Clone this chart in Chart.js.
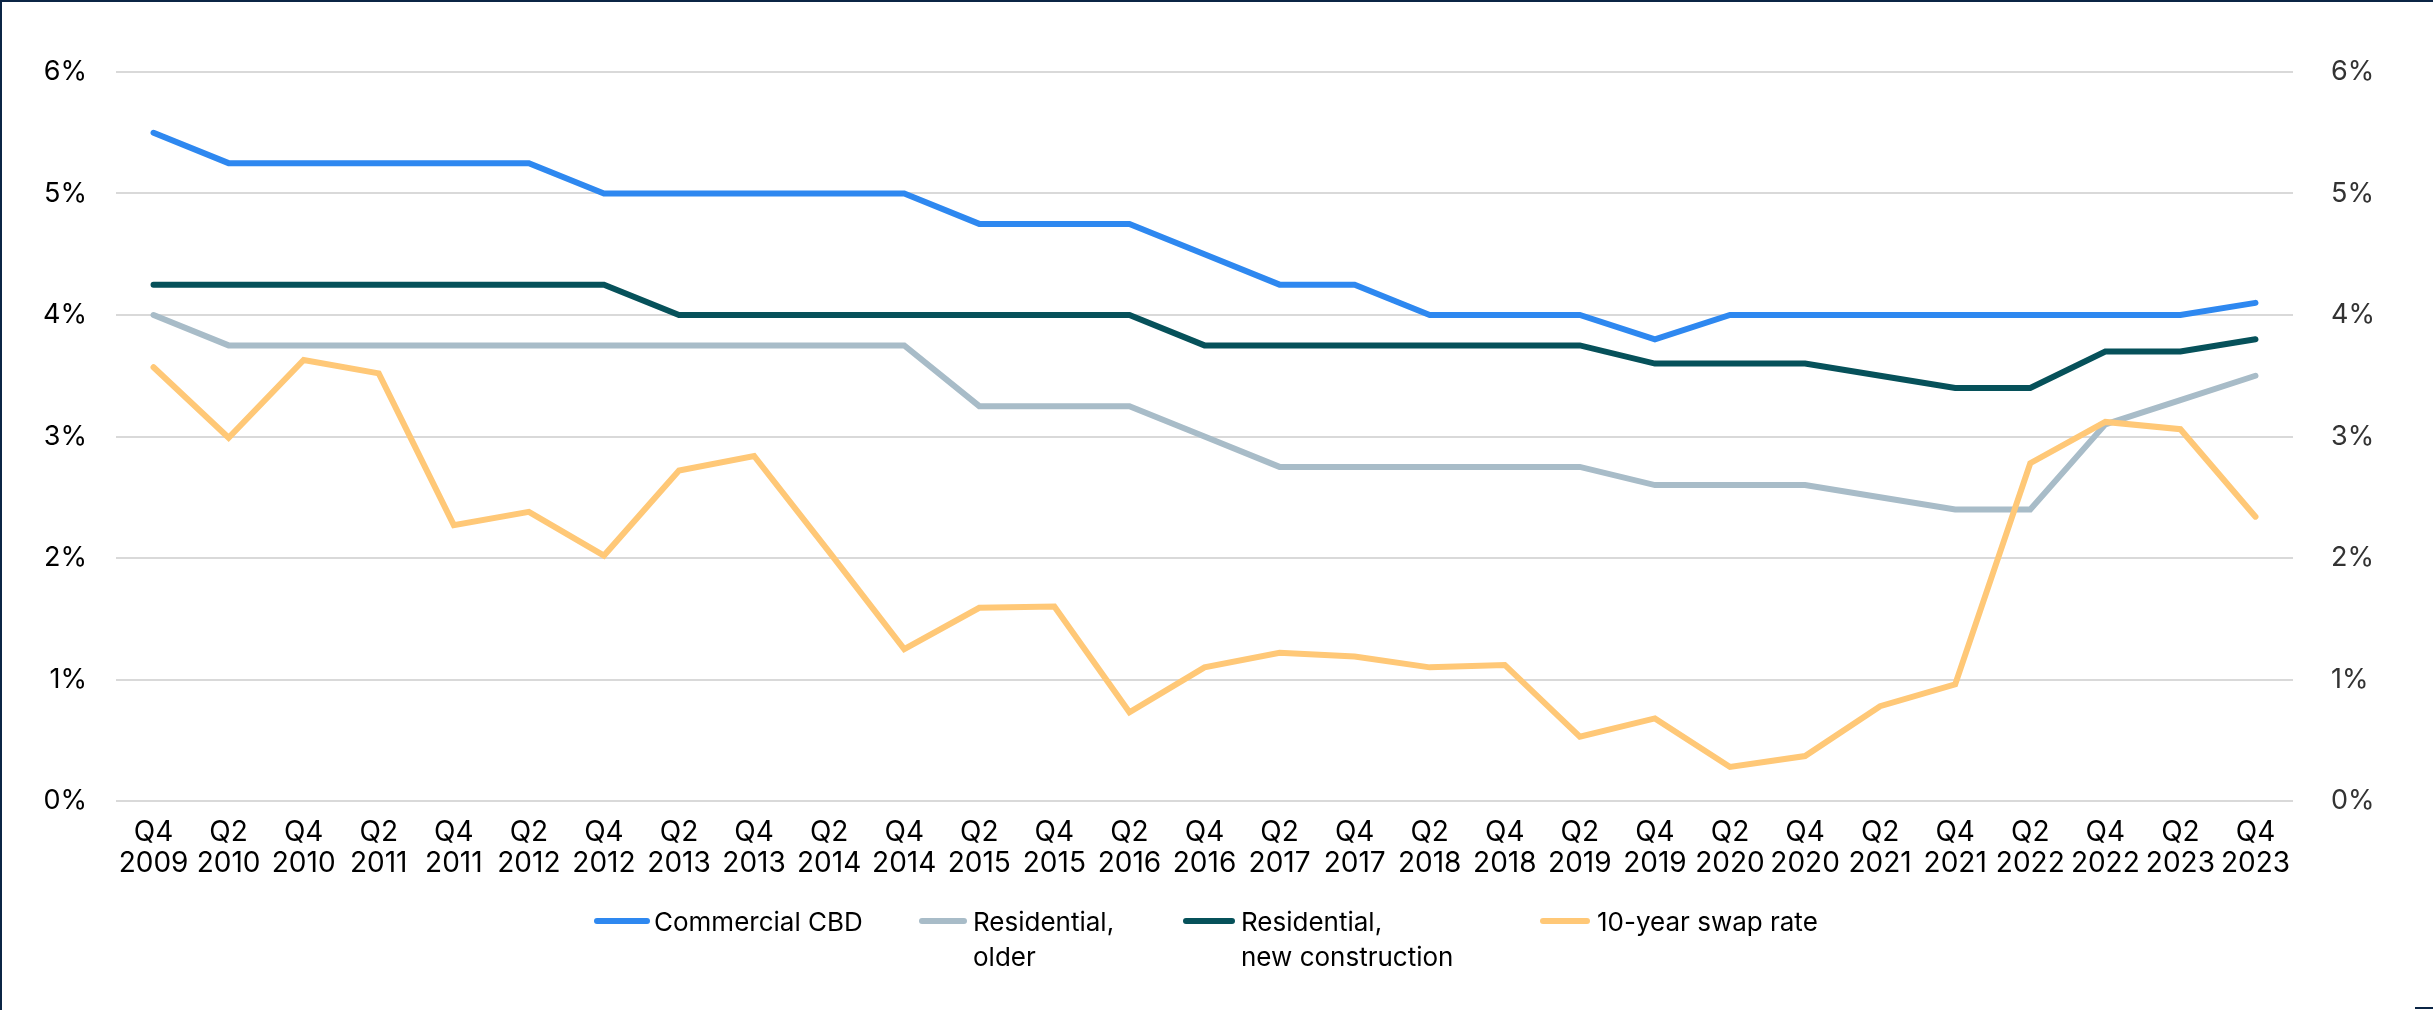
<!DOCTYPE html>
<html>
<head>
<meta charset="utf-8">
<script src="https://cdn.jsdelivr.net/npm/chart.js@4.4.1/dist/chart.umd.min.js"></script>
<style>
    body { margin: 0; background: #fff; }
    .wrap { position: relative; width: 2433px; height: 1010px; box-sizing: border-box; border-top: 2px solid #0b2545; border-left: 2px solid #0b2545; }
    .legend-item { position: absolute; font-family: Inter, "Liberation Sans", sans-serif; font-size: 26px; line-height: 35px; color: #000; }
    .legend-item .swatch { position: absolute; height: 6px; border-radius: 3px; top: 14px; }
    .corner { position: absolute; right: 0; bottom: 1px; width: 18px; height: 2px; background: #0b2545; }
</style>
</head>
<body>
<div class="wrap">
    <canvas id="chart"></canvas>
    <div id="legend"></div>
    <div class="corner"></div>
</div>
<script>
// categories (semi-annual)
const labels = [
    ['Q4', '2009'], ['Q2', '2010'], ['Q4', '2010'], ['Q2', '2011'], ['Q4', '2011'],
    ['Q2', '2012'], ['Q4', '2012'], ['Q2', '2013'], ['Q4', '2013'], ['Q2', '2014'],
    ['Q4', '2014'], ['Q2', '2015'], ['Q4', '2015'], ['Q2', '2016'], ['Q4', '2016'],
    ['Q2', '2017'], ['Q4', '2017'], ['Q2', '2018'], ['Q4', '2018'], ['Q2', '2019'],
    ['Q4', '2019'], ['Q2', '2020'], ['Q4', '2020'], ['Q2', '2021'], ['Q4', '2021'],
    ['Q2', '2022'], ['Q4', '2022'], ['Q2', '2023'], ['Q4', '2023']
];

// values in %
const commercialCBD = [5.5, 5.25, 5.25, 5.25, 5.25, 5.25, 5.0, 5.0, 5.0, 5.0,
    5.0, 4.75, 4.75, 4.75, 4.5, 4.25, 4.25, 4.0, 4.0, 4.0,
    3.8, 4.0, 4.0, 4.0, 4.0, 4.0, 4.0, 4.0, 4.1];
const residentialOlder = [4.0, 3.75, 3.75, 3.75, 3.75, 3.75, 3.75, 3.75, 3.75, 3.75,
    3.75, 3.25, 3.25, 3.25, 3.0, 2.75, 2.75, 2.75, 2.75, 2.75,
    2.6, 2.6, 2.6, 2.5, 2.4, 2.4, 3.1, 3.3, 3.5];
const residentialNew = [4.25, 4.25, 4.25, 4.25, 4.25, 4.25, 4.25, 4.0, 4.0, 4.0,
    4.0, 4.0, 4.0, 4.0, 3.75, 3.75, 3.75, 3.75, 3.75, 3.75,
    3.6, 3.6, 3.6, 3.5, 3.4, 3.4, 3.7, 3.7, 3.8];
const swapRate = [3.57, 2.99, 3.63, 3.52, 2.27, 2.38, 2.02, 2.72, 2.84, 2.05,
    1.25, 1.59, 1.6, 0.73, 1.1, 1.22, 1.19, 1.1, 1.12, 0.53,
    0.68, 0.28, 0.37, 0.78, 0.96, 2.78, 3.12, 3.06, 2.34];

const yTicks = [0, 1, 2, 3, 4, 5, 6];

const seriesNames = ['Commercial CBD', 'Residential,\nolder', 'Residential,\nnew construction', '10-year swap rate'];
const seriesColors = ['#2e88f0', '#a8bcc8', '#06515a', '#ffc877'];

const font = { family: 'Inter, "Liberation Sans", sans-serif', size: 27 };

const ctx = document.getElementById('chart').getContext('2d');
const chart = new Chart(ctx, {
    type: 'line',
    data: {
        labels: labels,
        datasets: [
            { label: seriesNames[0], data: commercialCBD, borderColor: seriesColors[0], order: 1 },
            { label: seriesNames[1], data: residentialOlder, borderColor: seriesColors[1], order: 2 },
            { label: seriesNames[2], data: residentialNew, borderColor: seriesColors[2], order: 1 },
            { label: seriesNames[3], data: swapRate, borderColor: seriesColors[3], order: 0 }
        ]
    },
    options: {
        responsive: true,
        maintainAspectRatio: false,
        animation: false,
        datasets: {
            line: { borderWidth: 6, tension: 0, pointRadius: 0, fill: false, borderCapStyle: 'round' }
        },
        layout: { padding: { top: 70, bottom: 119, left: 0, right: 0 } },
        plugins: { legend: { display: false }, tooltip: { enabled: false } },
        scales: {
            x: {
                offset: true,
                grid: { display: false, drawTicks: false },
                border: { display: false },
                ticks: { color: '#000', font: { ...font, size: 28, lineHeight: 1.12 }, padding: 16, maxRotation: 0, autoSkip: false },
                afterFit: function (scale) { scale.height = 90; }
            },
            y: {
                position: 'left',
                min: 0, max: 6,
                afterBuildTicks: function (scale) { scale.ticks = yTicks.map(v => ({ value: v })); },
                grid: { color: '#d9d9d9', lineWidth: 2, drawTicks: false },
                border: { display: false },
                ticks: { color: '#000', font: font, padding: 29, callback: v => v + '%' },
                afterFit: function (scale) { scale.width = 114; }
            },
            y1: {
                position: 'right',
                min: 0, max: 6,
                afterBuildTicks: function (scale) { scale.ticks = yTicks.map(v => ({ value: v })); },
                grid: { display: false, drawTicks: false },
                border: { display: false },
                ticks: { color: '#333', font: font, padding: 38, callback: v => v + '%' },
                afterFit: function (scale) { scale.width = 140; }
            }
        }
    }
});

// legend: Excel-style, placed under the axis
const legendPos = [
    { swatch: [594, 650], text: 654 },
    { swatch: [919, 967], text: 973 },
    { swatch: [1183, 1235], text: 1241 },
    { swatch: [1540, 1590], text: 1597 }
];
const legend = document.getElementById('legend');
seriesNames.forEach(function (name, i) {
    let item = document.createElement('div');
    item.className = 'legend-item';
    item.style.left = (legendPos[i].swatch[0] - 2) + 'px';
    item.style.top = '902px';
    let sw = document.createElement('span');
    sw.className = 'swatch';
    sw.style.left = '0px';
    sw.style.width = (legendPos[i].swatch[1] - legendPos[i].swatch[0]) + 'px';
    sw.style.background = seriesColors[i];
    let txt = document.createElement('div');
    txt.style.marginLeft = (legendPos[i].text - legendPos[i].swatch[0]) + 'px';
    txt.innerHTML = name.split('\n').join('<br>');
    item.appendChild(sw);
    item.appendChild(txt);
    legend.appendChild(item);
});
</script>
</body>
</html>
